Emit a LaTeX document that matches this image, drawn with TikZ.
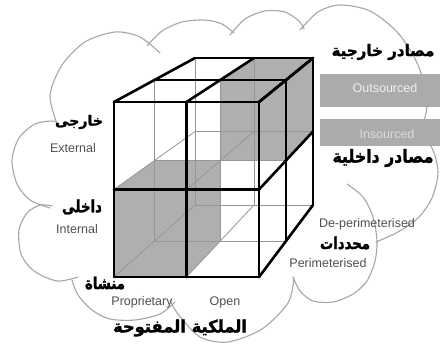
\documentclass[tikz,border=0pt]{standalone}
\usepackage{fontspec}
\setmainfont{Liberation Sans}
\newfontfamily\arabicbold[Script=Arabic,FakeBold=1.6]{DejaVu Sans Bold}
\TeXXeTstate=1
\usepackage{graphicx}
\definecolor{cloudc}{HTML}{A6A6A6}
\definecolor{hidc}{HTML}{969696}
\definecolor{octc}{HTML}{AFAFAF}
\definecolor{barc}{HTML}{ABABAB}
\definecolor{engc}{HTML}{505050}
\newcommand{\artext}[3]{\resizebox*{#1}{#2}{\arabicbold #3}}
\tikzset{
  cloudline/.style={draw=cloudc, line width=1.1pt, line cap=round},
  thickedge/.style={draw=black, line width=2.6pt, line cap=round, line join=round},
  hiddenedge/.style={draw=hidc, line width=0.8pt},
  octfill/.style={fill=octc, draw=none},
  barfill/.style={fill=barc, draw=none},
  en/.style={font=\fontsize{12.5}{14}\selectfont, text=engc, inner sep=0pt},
  enlight/.style={font=\fontsize{12.5}{14}\selectfont, text=#1, inner sep=0pt},
  arlbl/.style={inner sep=0pt, text=black},
}
\begin{document}
\begin{tikzpicture}[x=1pt,y=-1pt]
\fill[white] (0,0) rectangle (440,348);
\useasboundingbox (0,0) rectangle (440,348);

% cube lattice points p<u><v><w>
\foreach \u in {0,1,2}{\foreach \v in {0,1,2}{\foreach \w in {0,1,2}{
  \coordinate (p\u\v\w) at ({(114+72.5*\u)*(1-\w/2)+(195+59*\u)*\w/2},{(102+87.5*\v)*(1-\w/2)+(58+73.5*\v)*\w/2});
}}}

% cloud
\draw[cloudline] plot[smooth] coordinates {(57,124) (50,95) (62,65) (85,42) (115,32) (140,37) (160,53)};
\draw[cloudline] plot[smooth] coordinates {(147,46) (162,31) (182,22) (205,20) (222,24) (234,33)};
\draw[cloudline] plot[smooth] coordinates {(230,35) (245,19) (265,11) (285,12) (299,21) (304,29)};
\draw[cloudline] plot[smooth] coordinates {(300,30) (318,12) (340,5) (370,11) (398,33) (418,65) (427,100) (422,127) (408,145)};
\draw[cloudline] plot[smooth] coordinates {(417,129) (432,148) (438,172) (432,198) (418,218) (398,232) (376,242)};
\draw[cloudline] plot[smooth] coordinates {(347,184) (363,197) (373,217) (377,241) (375,261) (367,281) (353,294) (333,302) (313,301) (300,291) (293,277)};
\draw[cloudline] plot[smooth] coordinates {(294,278) (288,303) (262,329) (228,342) (200,337) (178,314) (170,300)};
\draw[cloudline] plot[smooth] coordinates {(175,302) (160,314) (135,320) (110,319) (92,310) (78,295) (72,280)};
\draw[cloudline] plot[smooth] coordinates {(78,277) (57,281) (34,271) (21,254) (19,230) (27,213) (40,205) (52,206)};
\draw[cloudline] plot[smooth] coordinates {(50,208) (30,200) (17,184) (12,160) (19,138) (35,124) (52,121) (58,123)};

% bars
\fill[barfill] (320,74) rectangle (440,107);
\fill[barfill] (320,119) rectangle (440,146);

% shaded octants
\fill[octfill] (p111) -- (p101) -- (p102) -- (p202) -- (p212) -- (p211) -- cycle;
\fill[octfill] (p020) -- (p010) -- (p011) -- (p111) -- (p121) -- (p120) -- cycle;

% hidden edges
\draw[hiddenedge] (p002) -- (p022);
\draw[hiddenedge] (p102) -- (p122);
\draw[hiddenedge] (p012) -- (p212);
\draw[hiddenedge] (p022) -- (p222);
\draw[hiddenedge] (p001) -- (p021);
\draw[hiddenedge] (p101) -- (p121);
\draw[hiddenedge] (p011) -- (p211);
\draw[hiddenedge] (p021) -- (p221);
\draw[hiddenedge] (p010) -- (p012);
\draw[hiddenedge] (p020) -- (p022);
\draw[hiddenedge] (p110) -- (p112);
\draw[hiddenedge] (p120) -- (p122);

% visible edges
\foreach \k in {0,1,2}{
  \draw[thickedge] (p0\k0) -- (p2\k0);
  \draw[thickedge] (p\k00) -- (p\k20);
  \draw[thickedge] (p00\k) -- (p20\k);
  \draw[thickedge] (p\k00) -- (p\k02);
  \draw[thickedge] (p20\k) -- (p22\k);
  \draw[thickedge] (p2\k0) -- (p2\k2);
}

% labels
\node[arlbl] (arext) at (79,122) {\artext{48pt}{14pt}{\beginR خارجى\endR}};
\node[en] (external) at (73,148) {External};
\node[arlbl] (arint) at (82,207) {\artext{40pt}{15pt}{\beginR داخلى\endR}};
\node[en] (internal) at (77,229) {Internal};
\node[arlbl] (arprop) at (105,283) {\artext{40pt}{13pt}{\beginR منشاة\endR}};
\node[en] (proprietary) at (142,302) {Proprietary};
\node[en] (open) at (225,302) {Open};
\node[arlbl] (arown) at (180,328) {\artext{134pt}{17pt}{\beginR الملكية المفتوحة\endR}};
\node[arlbl] (arout) at (383,52) {\artext{103pt}{16pt}{\beginR مصادر خارجية\endR}};
\node[enlight=white!94!black] (outsourced) at (385,88) {Outsourced};
\node[enlight=white!86!black] (insourced) at (387,134) {Insourced};
\node[arlbl] (arin) at (383,158) {\artext{101pt}{18pt}{\beginR مصادر داخلية\endR}};
\node[en] (deper) at (367,224) {De-perimeterised};
\node[arlbl] (arper) at (345,243) {\artext{50pt}{13pt}{\beginR محددات\endR}};
\node[en] (per) at (328,263) {Perimeterised};
\end{tikzpicture}
\end{document}
